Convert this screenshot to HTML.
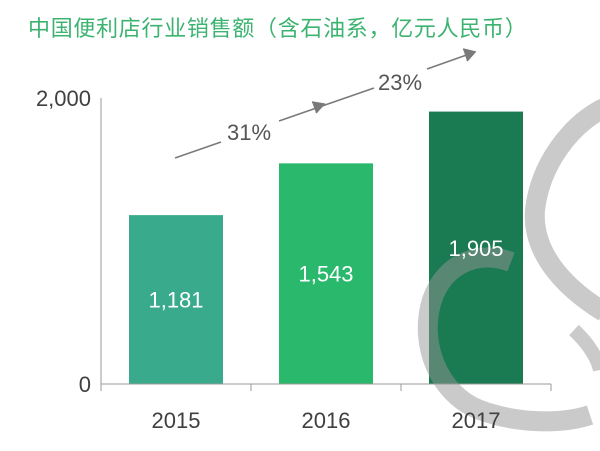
<!DOCTYPE html>
<html><head><meta charset="utf-8"><style>
body{margin:0;background:#fff}
svg{display:block}
text{font-family:"Liberation Sans","Noto Sans CJK SC",sans-serif}
</style></head><body>
<svg id="chart" width="600" height="451" viewBox="0 0 600 451">
<text x="28" y="36" font-size="22" fill="#3cb371" letter-spacing="0.7">中国便利店行业销售额（含石油系，亿元人民币）</text>
<g id="bars"></g>
<g stroke="#7a7a7a" stroke-width="1.6" fill="none">
<line x1="175" y1="158" x2="221" y2="142"/>
<line x1="279" y1="121" x2="374" y2="88"/>
<polyline points="312,102 324,104 316,113" fill="#7a7a7a"/>
<line x1="427" y1="69" x2="475" y2="52"/>
<polyline points="463,49 475,52 467,61" fill="#7a7a7a"/>
</g>
<text x="249" y="140" font-size="22" fill="#555" text-anchor="middle">31%</text>
<text x="400" y="90" font-size="22" fill="#555" text-anchor="middle">23%</text>
<g fill="none" stroke="rgba(150,150,150,0.5)" stroke-linecap="butt">
<path d="M604,108 C570,125 540,165 535,210 C532,250 560,285 604,312" stroke-width="20"/>
<path d="M511,262 C480,250 445,262 432,300 C418,345 440,395 480,410 C515,423 560,425 590,415" stroke-width="20"/>
<path d="M574,330 C590,345 598,360 600,370" stroke-width="14"/>
</g>
<g id="labels"></g>
</svg>
<script>
const categories=["2015","2016","2017"];
const values=[1181,1543,1905];
const valueLabels=["1,181","1,543","1,905"];
const yTicks=[0,2000];
const yTickLabels=["0","2,000"];
const colors=["#3aaa8c","#2ab96c","#1a7a52"];
const NS="http://www.w3.org/2000/svg";
const x0=101,x1=551,y0=384,yTop=98,yMax=2000;
const bw=(x1-x0)/categories.length;
const yS=v=>y0-(y0-yTop)*v/yMax;
const xC=i=>x0+bw*(i+0.5);
const svg=document.getElementById('chart');
const bars=document.getElementById('bars');
const labels=document.getElementById('labels');
function mk(t,a,p){const e=document.createElementNS(NS,t);for(const k in a)e.setAttribute(k,a[k]);(p||svg).appendChild(e);return e;}
values.forEach((v,i)=>{
  const r=mk('rect',{x:xC(i)-47,y:yS(v),width:94,height:y0-yS(v),fill:colors[i]},bars);
  
  
  const t=mk('text',{x:xC(i),y:(yS(v)+y0)/2+8,'font-size':22,fill:'#fff','text-anchor':'middle'},labels);
  t.textContent=valueLabels[i];
  
  
  const c=mk('text',{x:xC(i),y:428,'font-size':22,fill:'#404040','text-anchor':'middle'});
  c.textContent=categories[i];
  
  
});
const ya=mk('line',{x1:x0,y1:yTop,x2:x0,y2:y0,stroke:'#999','stroke-width':1});


const xa=mk('line',{x1:x0,y1:y0,x2:x1,y2:y0,stroke:'#999','stroke-width':1});


for(let i=0;i<=categories.length;i++){
  const tk=mk('line',{x1:x0+bw*i,y1:y0,x2:x0+bw*i,y2:y0+7,stroke:'#999','stroke-width':1});
  
  
}
yTicks.forEach((v,i)=>{
  const t=mk('text',{x:91,y:yS(v)+8,'font-size':22,fill:'#404040','text-anchor':'end'});
  t.textContent=yTickLabels[i];
  
  
});
</script>
</body></html>
